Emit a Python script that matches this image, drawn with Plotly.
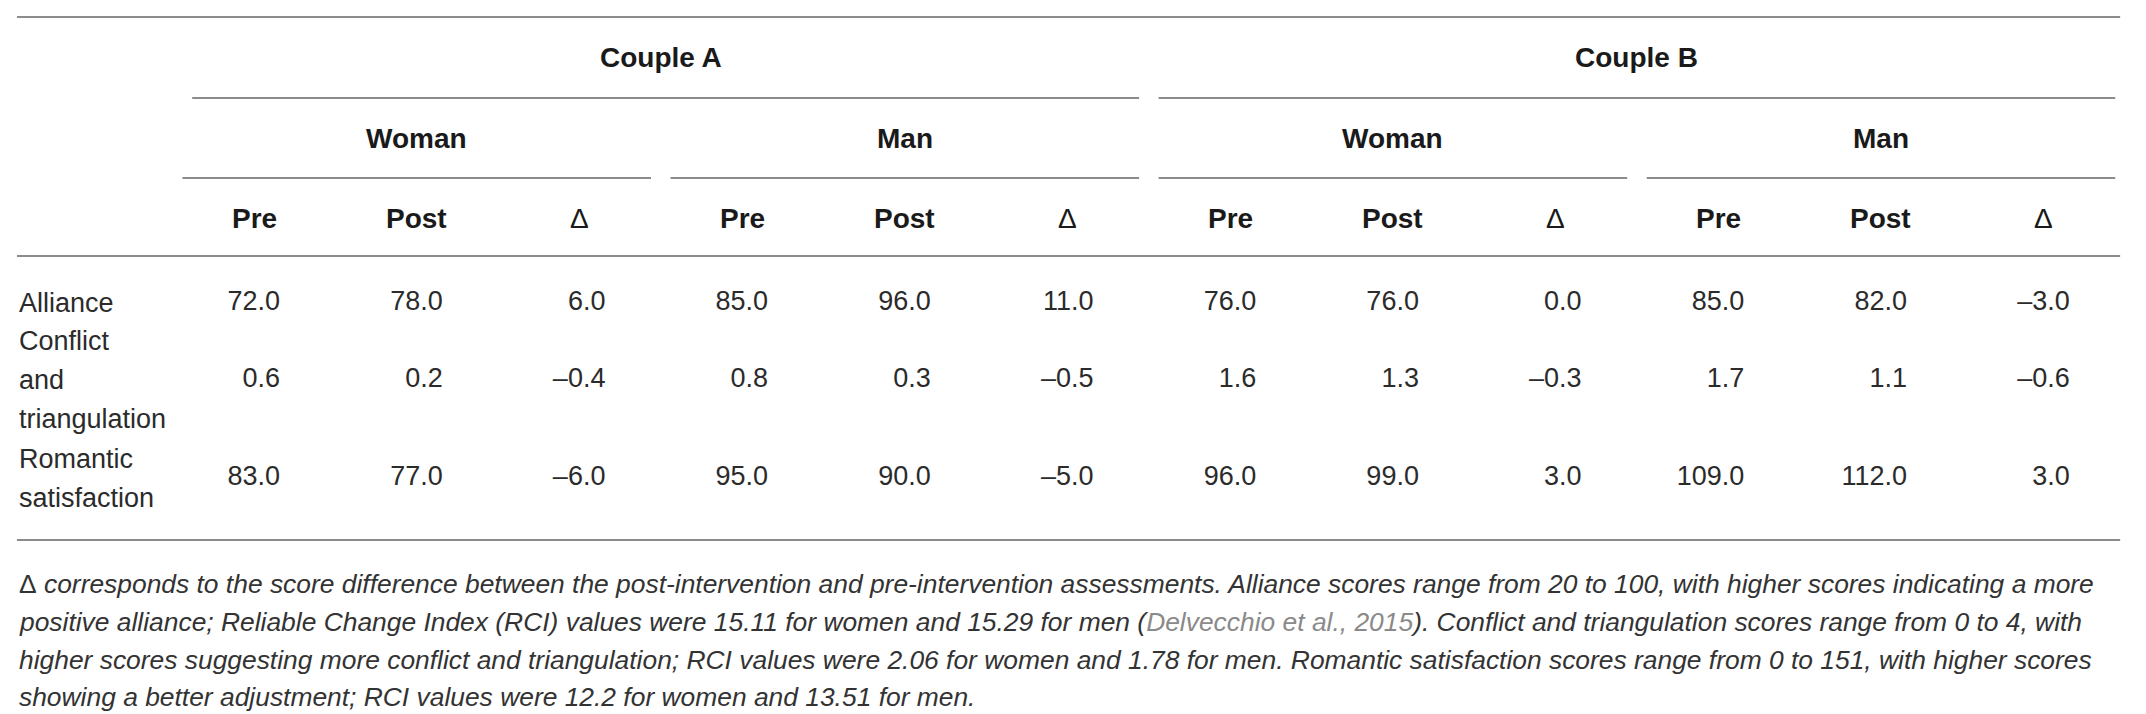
import plotly.graph_objects as go

# ---- table content ----
couples = ["Couple A", "Couple B"]
partners = ["Woman", "Man"]
measures = ["Pre", "Post", "<span style='font-weight:normal'>Δ</span>"]
row_labels = [["Alliance"], ["Conflict", "and", "triangulation"], ["Romantic", "satisfaction"]]

# columns: A-woman (pre, post, Δ), A-man, B-woman, B-man
alliance = [72.0, 78.0, 6.0, 85.0, 96.0, 11.0, 76.0, 76.0, 0.0, 85.0, 82.0, -3.0]
conflict = [0.6, 0.2, -0.4, 0.8, 0.3, -0.5, 1.6, 1.3, -0.3, 1.7, 1.1, -0.6]
romantic = [83.0, 77.0, -6.0, 95.0, 90.0, -5.0, 96.0, 99.0, 3.0, 109.0, 112.0, 3.0]
rows = [alliance, conflict, romantic]

footnote = [
    "<span style='font-style:normal'>Δ</span> corresponds to the score difference between the post-intervention "
    "and pre-intervention assessments. Alliance scores range from 20 to 100, with higher scores indicating a more",
    "positive alliance; Reliable Change Index (RCI) values were 15.11 for women and 15.29 for men "
    "(<span style='color:#8a8a8a'>Delvecchio et al., 2015</span>). Conflict and triangulation scores range from 0 to 4, with",
    "higher scores suggesting more conflict and triangulation; RCI values were 2.06 for women and 1.78 for men. "
    "Romantic satisfaction scores range from 0 to 151, with higher scores",
    "showing a better adjustment; RCI values were 12.2 for women and 13.51 for men.",
]

# ---- layout constants (x in column units, y in page px from top) ----
W, H = 2146, 714
PAGE_OFFSET = 8  # default body margin of the written page
X_RANGE = [-0.512, 12.678]
LEFT, RIGHT = -0.457, 12.47
LABEL_X = -0.455
Y_TOP_RULE, Y_COUPLE, Y_COUPLE_RULE = 17, 57, 98
Y_PARTNER, Y_PARTNER_RULE, Y_MEASURE, Y_HEAD_RULE = 138, 178, 218, 256
ROW_Y = [303, 380, 478]
LINE_GAP = 39
Y_BOTTOM_RULE = 540
FOOT_Y = [584, 622, 660, 697]

BODY = dict(family="Liberation Sans, Arial, sans-serif", size=27, color="#2b2b2b")
HEAD = dict(family="Liberation Sans, Arial, sans-serif", size=28, color="#1a1a1a", weight="bold")
FOOT = dict(family="Liberation Sans, Arial, sans-serif", size=26.4, color="#333333", style="italic")
RULE = dict(color="#8c8c8c", width=2)


def fmt(v):
    return f"{v:.1f}".replace("-", "–")


fig = go.Figure()

# values, right aligned inside each column
xs, ys, txt = [], [], []
for r, vals in enumerate(rows):
    for c, v in enumerate(vals):
        xs.append(c + 1 + 0.16)
        ys.append(ROW_Y[r])
        txt.append(fmt(v))
fig.add_trace(go.Scatter(x=xs, y=ys, text=txt, mode="text", textposition="middle left",
                         textfont=BODY, hoverinfo="skip", showlegend=False))

ann = []
# row labels (wrapped lines)
for r, lines in enumerate(row_labels):
    n = len(lines)
    for i, line in enumerate(lines):
        ann.append(dict(x=LABEL_X, y=ROW_Y[r] + (i - (n - 1) / 2) * LINE_GAP, text=line,
                        xanchor="left", font=BODY))

shapes = []
for k, couple in enumerate(couples):
    first, last = 6 * k + 1, 6 * k + 6
    ann.append(dict(x=(first + last) / 2, y=Y_COUPLE, text=couple, font=HEAD))
    shapes.append(dict(x0=first - 0.44 + (0.06 if k == 0 else 0), x1=min(last + 0.44, RIGHT),
                       y0=Y_COUPLE_RULE, y1=Y_COUPLE_RULE))
    for j, partner in enumerate(partners):
        f, l = first + 3 * j, first + 3 * j + 2
        ann.append(dict(x=(f + l) / 2, y=Y_PARTNER, text=partner, font=HEAD))
        shapes.append(dict(x0=f - 0.44, x1=min(l + 0.44, RIGHT), y0=Y_PARTNER_RULE, y1=Y_PARTNER_RULE))
        for m, meas in enumerate(measures):
            ann.append(dict(x=f + m, y=Y_MEASURE, text=meas, font=HEAD))

for y in [Y_TOP_RULE, Y_HEAD_RULE, Y_BOTTOM_RULE]:
    shapes.append(dict(x0=LEFT, x1=RIGHT, y0=y, y1=y))

for i, line in enumerate(footnote):
    ann.append(dict(x=LABEL_X, y=FOOT_Y[i], text=line, xanchor="left", font=FOOT))

for a in ann:
    a.update(xref="x", yref="y", showarrow=False, yanchor="middle")
for s in shapes:
    s.update(type="line", xref="x", yref="y", line=RULE)

fig.update_layout(
    width=W, height=H,
    margin=dict(l=0, r=0, t=0, b=0),
    paper_bgcolor="white", plot_bgcolor="white",
    xaxis=dict(range=X_RANGE, visible=False, fixedrange=True),
    yaxis=dict(range=[H + PAGE_OFFSET, PAGE_OFFSET], visible=False, fixedrange=True),
    annotations=ann, shapes=shapes,
    hovermode=False,
)

fig.write_html("out.html", config={"displayModeBar": False})
